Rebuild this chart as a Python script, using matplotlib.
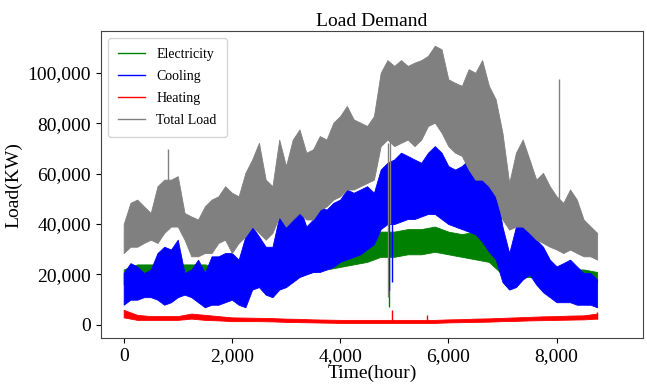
import numpy as np
import matplotlib
matplotlib.use('Agg')
import matplotlib.pyplot as plt
from matplotlib.ticker import StrMethodFormatter

plt.rcParams['font.family'] = ['Liberation Serif', 'DejaVu Serif']

# hourly loads summarised as band envelopes (kW)
hours_fine = np.arange(0, 8751, 125)   # total / cooling
hours = np.arange(0, 8751, 250)        # electricity / heating

total_hi = [40, 48.4, 49.7, 47, 44.4, 55, 57.6, 57.6, 59, 44.4, 43, 41.8, 47, 49.7, 51, 55, 52.4, 51,
            60.3, 65.6, 72.2, 57.6, 55, 73.5, 63, 73.5, 77.5, 68.3, 69.6, 74.9, 73.5, 80.2, 82.8, 86.8,
            81.5, 80.2, 78.9, 82.8, 100, 105, 102.7, 105, 102.7, 104, 105, 106.7, 110.7, 109.3, 97.4,
            96, 94.8, 101.4, 100, 105, 94.8, 89.5, 76.2, 56.3, 68.3, 73.5, 65.6, 57.6, 60.3, 55, 51,
            48.4, 53.7, 49.7, 41.8, 39.1, 36.5]
total_lo = [28.5, 31, 31, 32.5, 33.8, 32.5, 36.5, 39, 39, 33.8, 27.2, 27.2, 28.5, 28.5, 32.5, 33.8, 28.5,
            32.5, 35.1, 39, 36.5, 33.8, 36.5, 43, 39, 41.8, 44.4, 41.8, 41.8, 45.7, 47, 49.7, 51, 53.7,
            53.7, 55, 56.3, 57.6, 70.9, 73.5, 70.9, 72.2, 73.5, 70.9, 73.5, 78.9, 80.2, 76.2, 70.9, 68.3,
            67, 61.6, 57.6, 57.6, 55, 51, 41.8, 37.8, 39, 39, 36.5, 33.8, 32.5, 31, 29.9, 28.5, 29.9,
            28.5, 27.2, 27.2, 25.9]

cool_hi = [20.6, 24.5, 23.2, 20.6, 21.9, 28.5, 31, 29.9, 33.8, 20.6, 21.9, 25.9, 20.6, 27.2, 27.2, 28.5,
           28.5, 25.9, 35.1, 39, 35.1, 31, 31, 43, 39, 44.4, 47, 39, 41.8, 47, 45.7, 48.4, 49.7, 53.7,
           52.4, 53.7, 55, 52.4, 61.6, 64.3, 65.6, 68.3, 67, 65.6, 64.3, 68.3, 70.9, 68.3, 63, 61.6, 63,
           65.6, 60.3, 67, 56.3, 55, 39, 28.5, 39, 44.4, 39, 33.8, 31, 25.9, 23.2, 24.5, 25.9, 23.2,
           20.6, 20.6, 18]
cool_lo = [8, 10, 10, 11, 11, 10, 8, 9, 11, 12, 11, 9, 7, 8, 8, 9, 10, 8, 7, 14, 15, 12, 11, 14, 15,
           17, 19, 20, 21, 21, 22, 23, 25, 26, 27, 28, 30, 32, 38, 40, 40, 41, 42, 42, 43, 44, 44, 42,
           40, 39, 38, 37, 36, 33, 29, 26, 17, 14, 15, 18, 20, 16, 13, 11, 9, 9, 9, 8, 8, 8, 7]

elec_hi = [22, 24, 24, 24, 24, 24, 24, 23, 23, 23, 24, 24, 25, 27, 28, 29, 31, 33,
           34, 37, 37, 38, 38, 39, 37, 36, 37, 35, 28, 25, 24, 23, 22, 22, 22, 21]
elec_lo = [16, 18, 18, 18, 18, 19, 18, 18, 18, 18, 18, 19, 19, 20, 21, 22, 23, 24,
           25, 27, 27, 28, 28, 29, 28, 27, 26, 25, 20, 19, 19, 18, 18, 17, 17, 17]

heat_hi = [6.0, 4.0, 3.5, 3.5, 3.5, 4.5, 4.0, 3.5, 3.0, 2.9, 2.8, 2.7, 2.5, 2.4, 2.2, 2.1, 2.0, 2.0,
           2.0, 2.0, 2.0, 2.0, 2.0, 2.0, 2.2, 2.3, 2.5, 2.6, 2.8, 3.0, 3.2, 3.4, 3.5, 3.7, 3.8, 4.5]
heat_lo = [3.0, 2.0, 2.0, 2.0, 2.0, 2.5, 2.0, 1.8, 1.5, 1.5, 1.5, 1.4, 1.2, 1.1, 1.0, 0.9, 0.8, 0.8,
           0.8, 0.8, 0.8, 0.8, 0.8, 0.8, 1.0, 1.1, 1.2, 1.3, 1.5, 1.6, 1.8, 1.9, 2.0, 2.1, 2.2, 2.5]

# isolated single-hour excursions (hour, low kW, high kW)
total_spike_hours = [820, 4880, 4930, 8037]
total_spike_lo = [40, 11, 40, 30]
total_spike_hi = [69.6, 72, 100, 97.4]
cool_spike_hours = [4900, 4960]
cool_spike_lo = [14, 17]
cool_spike_hi = [45, 45]
elec_spike_hours = [4900]
elec_spike_lo = [7]
elec_spike_hi = [28]
heat_spike_hours = [4950, 5600, 8740]
heat_spike_lo = [1, 1, 2.5]
heat_spike_hi = [6, 4, 5]

fig, ax = plt.subplots(figsize=(6.47, 3.89), dpi=100)
fig.subplots_adjust(left=0.156, right=0.994, bottom=0.131, top=0.920)

k = 1000.0
series = [
    ('Electricity', 'green', hours, elec_lo, elec_hi, elec_spike_hours, elec_spike_lo, elec_spike_hi, 1),
    ('Cooling', 'blue', hours_fine, cool_lo, cool_hi, cool_spike_hours, cool_spike_lo, cool_spike_hi, 2),
    ('Heating', 'red', hours, heat_lo, heat_hi, heat_spike_hours, heat_spike_lo, heat_spike_hi, 3),
    ('Total Load', 'grey', hours_fine, total_lo, total_hi, total_spike_hours, total_spike_lo, total_spike_hi, 4),
]
for name, col, t, lo, hi, sh, slo, shi, z in series:
    ax.fill_between(t, np.array(lo) * k, np.array(hi) * k, color=col, lw=0.6, zorder=z)
    ax.vlines(sh, np.array(slo) * k, np.array(shi) * k, color=col, lw=1.0, zorder=z)
    ax.plot([], [], color=col, lw=1.0, label=name)

ax.set_xlim(-420, 9600)
ax.set_ylim(-5200, 116500)
ax.set_xticks([0, 2000, 4000, 6000, 8000])
ax.set_yticks([0, 20000, 40000, 60000, 80000, 100000])
ax.xaxis.set_major_formatter(StrMethodFormatter('{x:,.0f}'))
ax.yaxis.set_major_formatter(StrMethodFormatter('{x:,.0f}'))
ax.tick_params(labelsize=14)
for s in ax.spines.values():
    s.set_color('#444444')
ax.set_xlabel('Time(hour)', fontsize=14, labelpad=0)
ax.set_ylabel('Load(KW)', fontsize=14)
ax.set_title('Load Demand', fontsize=14, pad=4)
ax.legend(loc='upper left', fontsize=10, handlelength=2.0, labelspacing=0.65,
          borderpad=0.7, borderaxespad=0.5)

plt.savefig('out.png')
